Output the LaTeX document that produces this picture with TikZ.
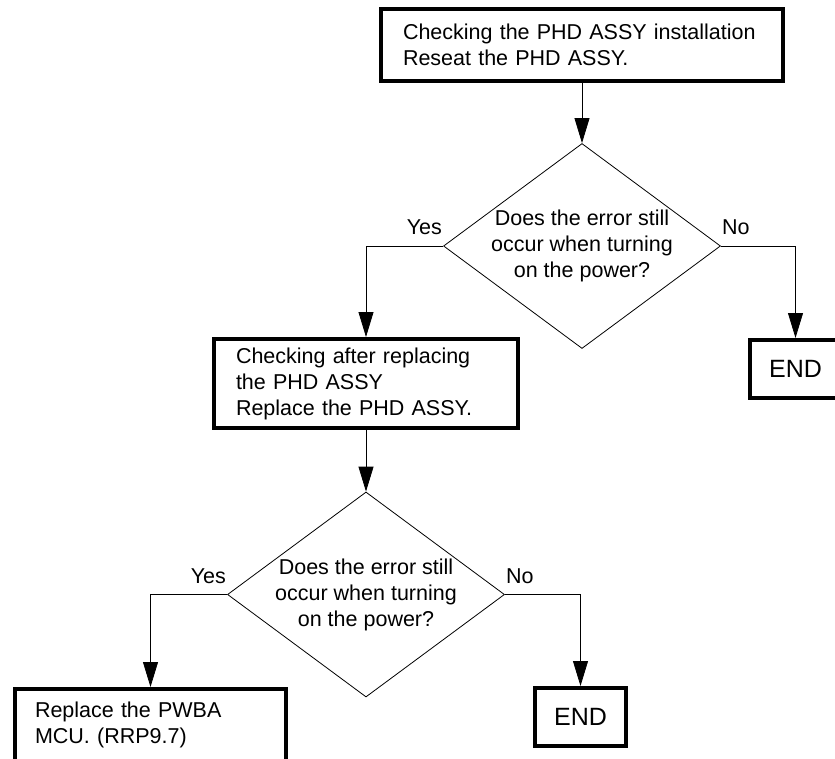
\documentclass[tikz,border=0pt]{standalone}
\usepackage{fontspec}
\setmainfont{Liberation Sans}
\usetikzlibrary{shapes.geometric,arrows.meta}
\begin{document}
\begin{tikzpicture}[x=1pt,y=-1pt,
  txt/.style={font=\fontsize{21.5}{26}\selectfont},
  procbox/.style={draw, line width=4pt, rectangle, align=left, txt, inner ysep=0pt},
  decision/.style={draw, diamond, line width=0.8pt, minimum width=277pt, minimum height=205pt, inner sep=0pt},
  endbox/.style={draw, line width=4pt, rectangle, minimum width=91pt, minimum height=58pt, inner sep=0pt, font=\fontsize{25}{30}\selectfont},
  arr/.style={line width=0.8pt, -{Triangle[length=25pt,width=15pt]}},
  lbl/.style={txt, inner sep=0pt}]
\fill[white] (0,0) rectangle (835,759);
\useasboundingbox (0,0) rectangle (835,759);
\clip (0,0) rectangle (835,759);

\node[procbox, text width=358pt, inner xsep=22pt, minimum height=72pt] (b1) at (582,45)
  {Checking the PHD ASSY installation\\Reseat the PHD ASSY.};
\node[decision, label={[txt, align=center]center:Does the error still\\occur when turning\\on the power?}] (d1) at (582,246) {};
\node[procbox, text width=260pt, inner xsep=22pt, minimum height=89pt] (b2) at (366,383.5)
  {Checking after replacing\\the PHD ASSY\\Replace the PHD ASSY.};
\node[endbox] (e1) at (795.5,369) {END};
\node[decision, label={[txt, align=center]center:Does the error still\\occur when turning\\on the power?}] (d2) at (366,594.5) {};
\node[procbox, text width=231pt, inner xsep=20pt, minimum height=72pt] (b3) at (150.5,725)
  {Replace the PWBA\\MCU. (RRP9.7)};
\node[endbox] (e2) at (580.5,717) {END};

\node[lbl, anchor=base east] (y1) at ([xshift=-1pt,yshift=11pt]d1.west) {Yes};
\node[lbl, anchor=base west] (n1) at ([xshift=1pt,yshift=11pt]d1.east) {No};
\node[lbl, anchor=base east] (y2) at ([xshift=-1pt,yshift=11pt]d2.west) {Yes};
\node[lbl, anchor=base west] (n2) at ([xshift=1pt,yshift=11pt]d2.east) {No};

\draw[arr] (b1.south) -- (d1.north);
\draw[arr] (d1.west) -| (b2.north);
\draw[arr] (d1.east) -| (e1.north);
\draw[arr] (b2.south) -- (d2.north);
\draw[arr] (d2.west) -| (b3.north);
\draw[arr] (d2.east) -| (e2.north);
\end{tikzpicture}
\end{document}
